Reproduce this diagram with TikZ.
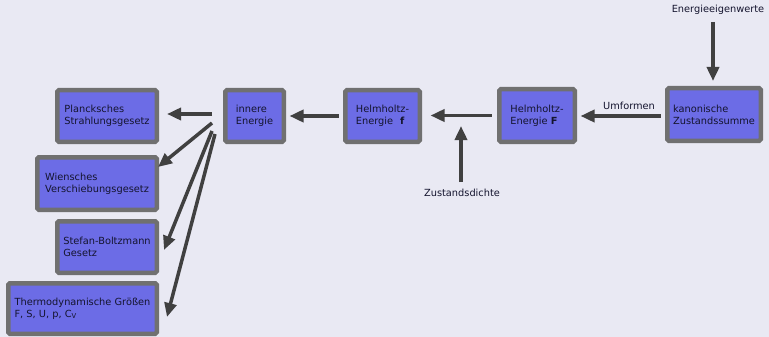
\documentclass[tikz,border=0pt]{standalone}
\usepackage{fontspec}
\setmainfont{DejaVu Sans}
\usetikzlibrary{arrows.meta}
\definecolor{bg}{HTML}{E9E9F3}
\definecolor{boxfill}{HTML}{6C6CE6}
\definecolor{boxborder}{HTML}{707070}
\definecolor{arrcol}{HTML}{404040}
\definecolor{txt}{HTML}{14142E}
\tikzset{
  box/.style={draw=boxborder, fill=boxfill, line width=4.5pt, rounded corners=1.5pt,
    inner sep=0pt, align=left, text=txt, font=\fontsize{9.8}{12.3}\selectfont},
  arr/.style={draw=arrcol, line width=3.5pt, -{Triangle[length=14pt,width=12pt]}},
  lbl/.style={text=txt, font=\fontsize{9.8}{12.3}\selectfont, inner sep=0pt},
}
\newcommand{\bx}[5]{\node[box, minimum width=#3pt-4.5pt, minimum height=#4pt-4.5pt] (#1) at (#2) {#5};}
\begin{document}
\begin{tikzpicture}[x=1pt,y=-1pt]
\fill[bg] (0,0) rectangle (769,337);
\useasboundingbox (0,0) rectangle (769,337);
\bx{planck}{107,116}{104}{56}{Plancksches\\Strahlungsgesetz}
\bx{wien}{97,183.5}{124}{57}{Wiensches\\Verschiebungsgesetz}
\bx{stefan}{107,247}{104}{56}{Stefan-Boltzmann\\Gesetz}
\bx{thermo}{82.5,308.5}{153}{55}{Thermodynamische Größen\\F, S, U, p, C\textsubscript{V}}
\bx{inner}{254.5,116}{63}{56}{innere\\Energie}
\bx{Hf}{382.5,116}{79}{56}{Helmholtz-\\Energie\hspace{0.7em}\textbf{f}}
\bx{HF}{537,115.5}{80}{57}{Helmholtz-\\Energie \textbf{F}}
\bx{kan}{714,114.5}{98}{57}{kanonische\\Zustandssumme}
\node[lbl] (eig) at (718,10) {Energieeigenwerte};
\node[lbl] (zus) at (462,193) {Zustandsdichte};
\node[lbl, anchor=south] (umf) at (629,110) {Umformen};
\coordinate (es) at (713,22);
\coordinate (et) at (713,81);
\draw[arr] (es) -- (et);
\draw[arr, shorten <=4.5pt, shorten >=3.5pt] ([yshift=-1.5pt]kan.west) -- ([yshift=-0.5pt]HF.east);
\draw[arr, shorten <=5.5pt, shorten >=8.5pt] (HF.west) -- ([yshift=0.5pt]Hf.east);
\coordinate (zs) at (461,182);
\coordinate (zd) at (461,126);
\draw[arr] (zs) -- (zd);
\draw[arr, shorten <=4.5pt, shorten >=3.5pt] (Hf.west) -- (inner.east);
\coordinate (f1) at (212,114);
\coordinate (f2) at (212,123);
\coordinate (f3) at (212,131);
\coordinate (f4) at (215,134);
\draw[arr] (f1) -- ([xshift=8pt,yshift=2pt]planck.east);
\draw[arr] (f2) -- (158,167);
\draw[arr] (f3) -- (164,250);
\draw[arr] (f4) -- (167,317);
\end{tikzpicture}
\end{document}
